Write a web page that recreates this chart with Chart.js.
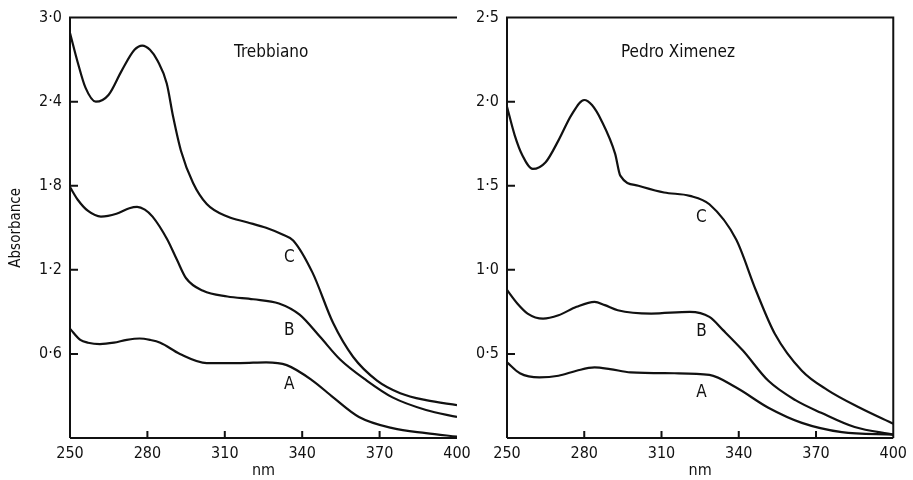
<!DOCTYPE html>
<html>
<head>
<meta charset="utf-8">
<script src="https://cdn.jsdelivr.net/npm/chart.js@4/dist/chart.umd.min.js"></script>
<style>
  body { margin: 0; background: #fff; }
  #wrap { position: relative; width: 913px; height: 480px; }
  canvas { position: absolute; top: 0; }
  #left { left: 0; }
  #right { left: 440px; }
</style>
</head>
<body>
<div id="wrap">
  <canvas id="left" width="480" height="480"></canvas>
  <canvas id="right" width="473" height="480"></canvas>
</div>
<script>
// wavelength (nm) ticks
const nmTicks = [250, 280, 310, 340, 370, 400];

// Trebbiano
const trebTicks = [0.6, 1.2, 1.8, 2.4, 3.0];
const trebC_nm = [250, 253, 256, 260, 265, 270, 275, 278, 281, 284, 287.5, 290, 293, 297.7, 303, 311, 318.6, 326, 332.6, 336.5, 344, 352, 359.7, 369, 378, 388, 400];
const trebC = [2.89, 2.68, 2.50, 2.40, 2.45, 2.62, 2.77, 2.80, 2.77, 2.69, 2.53, 2.29, 2.05, 1.82, 1.67, 1.58, 1.54, 1.50, 1.45, 1.41, 1.18, 0.82, 0.58, 0.41, 0.32, 0.27, 0.235];
const trebB_nm = [250, 253, 257, 262, 268, 273, 276, 279, 282, 287.6, 291.5, 295, 301.6, 311, 321, 331, 339, 347, 354.7, 365, 375, 388, 400];
const trebB = [1.79, 1.70, 1.62, 1.58, 1.60, 1.64, 1.65, 1.63, 1.58, 1.42, 1.27, 1.14, 1.05, 1.01, 0.99, 0.96, 0.88, 0.72, 0.56, 0.41, 0.29, 0.20, 0.15];
const trebA_nm = [250, 254, 257, 261.6, 267, 272, 277, 281, 285, 292.6, 303, 316, 326, 334, 344, 352, 362, 375, 388, 400];
const trebA = [0.78, 0.70, 0.68, 0.67, 0.68, 0.70, 0.71, 0.70, 0.68, 0.60, 0.535, 0.535, 0.54, 0.52, 0.41, 0.29, 0.15, 0.07, 0.035, 0.01];

// Pedro Ximenez
const pxTicks = [0.5, 1.0, 1.5, 2.0, 2.5];
const pxC_nm = [250, 253, 256, 260, 265, 270, 275, 280, 283, 286.6, 292, 294, 301, 311, 321, 328.6, 339, 346.6, 354, 364.5, 374.5, 387, 400];
const pxC = [1.97, 1.80, 1.68, 1.60, 1.64, 1.77, 1.92, 2.01, 1.98, 1.89, 1.69, 1.56, 1.50, 1.46, 1.44, 1.39, 1.18, 0.88, 0.62, 0.40, 0.285, 0.18, 0.085];
const pxB_nm = [250, 254, 258, 264, 270, 277, 284, 288, 293, 306, 321, 328.6, 334, 341.6, 351.5, 362, 372, 385, 400];
const pxB = [0.88, 0.80, 0.74, 0.71, 0.73, 0.78, 0.81, 0.79, 0.76, 0.74, 0.75, 0.72, 0.64, 0.52, 0.34, 0.225, 0.15, 0.065, 0.02];
const pxA_nm = [250, 255, 262.6, 270, 277, 284, 290, 298, 315, 328.6, 339, 351.5, 364.5, 380, 400];
const pxA = [0.45, 0.385, 0.36, 0.37, 0.40, 0.42, 0.41, 0.39, 0.385, 0.375, 0.30, 0.18, 0.09, 0.035, 0.02];

const curveNames = ['A', 'B', 'C'];
const trebLabelPos = [[335, 0.38], [335, 0.77], [335, 1.29]];
const pxLabelPos = [[325.5, 0.27], [325.5, 0.63], [325.5, 1.31]];

const FONT = '"DejaVu Sans Condensed", "DejaVu Sans", sans-serif';
const INK = '#111';

function pts(xs, ys) {
  return xs.map((x, i) => ({ x: x, y: ys[i] }));
}

function dot(v) {
  return v.toFixed(1).replace('.', '·');
}

// inward tick marks, in-plot title and curve letters
const decor = {
  id: 'decor',
  afterDraw(chart, args, opts) {
    const c = chart.ctx;
    const xs = chart.scales.x, ys = chart.scales.y;
    const a = chart.chartArea;
    c.save();
    c.strokeStyle = INK;
    c.lineWidth = 2;
    c.beginPath();
    // frame
    c.moveTo(a.left, a.bottom); c.lineTo(a.left, a.top); c.lineTo(a.right, a.top);
    if (opts.rightBorder) c.lineTo(a.right, a.bottom);
    c.moveTo(a.left, a.bottom); c.lineTo(a.right, a.bottom);
    opts.yTicks.forEach(v => {
      const y = ys.getPixelForValue(v);
      c.moveTo(a.left, y); c.lineTo(a.left + 8, y);
    });
    nmTicks.slice(1, -1).forEach(v => {
      const x = xs.getPixelForValue(v);
      c.moveTo(x, a.bottom); c.lineTo(x, a.bottom - 7);
    });
    c.stroke();
    c.fillStyle = INK;
    c.font = '17px ' + FONT;
    c.textAlign = 'center';
    c.textBaseline = 'middle';
    c.fillText(opts.title, xs.getPixelForValue(opts.titleAt[0]), ys.getPixelForValue(opts.titleAt[1]));
    opts.letters.forEach((p, i) => {
      c.fillText(curveNames[i], xs.getPixelForValue(p[0]), ys.getPixelForValue(p[1]));
    });
    c.restore();
  }
};

function makeChart(id, series, yMax, yTicks, yAxisWidth, padRight, showTitle, title, titleAt, letters, rightBorder) {
  return new Chart(document.getElementById(id), {
    type: 'line',
    data: {
      datasets: series.map(s => ({
        data: s,
        borderColor: INK,
        borderWidth: 2.2,
        pointRadius: 0,
        tension: 0.4,
        cubicInterpolationMode: 'monotone',
        fill: false
      }))
    },
    options: {
      responsive: false,
      animation: false,
      layout: { padding: { top: 17, right: padRight, left: 0, bottom: 0 } },
      plugins: {
        legend: { display: false },
        tooltip: { enabled: false },
        decor: { yTicks: yTicks, title: title, titleAt: titleAt, letters: letters, rightBorder: rightBorder }
      },
      scales: {
        x: {
          type: 'linear',
          min: 250, max: 400,
          afterBuildTicks: s => { s.ticks = nmTicks.map(v => ({ value: v })); },
          afterFit: s => { s.height = 42; },
          grid: { display: false, drawTicks: false },
          border: { display: false },
          ticks: { color: INK, font: { family: FONT, size: 16 }, padding: 6, maxRotation: 0 },
          title: { display: true, text: 'nm', color: INK, font: { family: FONT, size: 16 }, padding: { top: 0, bottom: 0 } }
        },
        y: {
          min: 0, max: yMax,
          afterBuildTicks: s => { s.ticks = yTicks.map(v => ({ value: v })); },
          afterFit: s => { s.width = yAxisWidth; },
          grid: { display: false, drawTicks: false },
          border: { display: false },
          ticks: { color: INK, font: { family: FONT, size: 16 }, padding: 8, callback: v => dot(v) },
          title: { display: showTitle, text: 'Absorbance', color: INK, font: { family: FONT, size: 15 }, padding: { top: 7, bottom: 0 } }
        }
      }
    },
    plugins: [decor]
  });
}

makeChart('left',
  [pts(trebA_nm, trebA), pts(trebB_nm, trebB), pts(trebC_nm, trebC)],
  3.0, trebTicks, 70, 23, true, 'Trebbiano', [328, 2.75], trebLabelPos, false);

makeChart('right',
  [pts(pxA_nm, pxA), pts(pxB_nm, pxB), pts(pxC_nm, pxC)],
  2.5, pxTicks, 67, 13, false, 'Pedro Ximenez', [316.4, 2.29], pxLabelPos, true);
</script>
</body>
</html>
